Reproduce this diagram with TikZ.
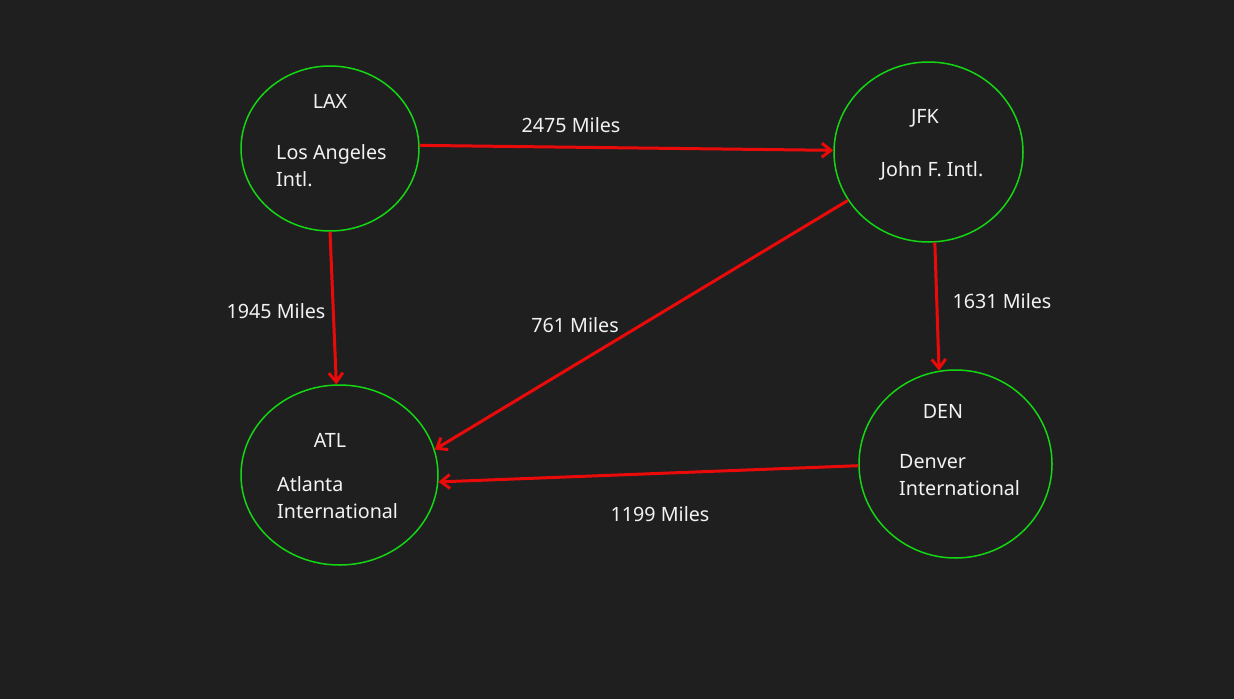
\documentclass[tikz,border=0pt]{standalone}
\usepackage{fontspec}
\setmainfont{Noto Sans}
\usetikzlibrary{shapes.geometric,arrows.meta}
\definecolor{bg}{HTML}{1F1F1F}
\definecolor{ring}{RGB}{20,215,20}
\definecolor{edgered}{RGB}{235,10,10}
\definecolor{txt}{HTML}{F2F2F2}
\tikzset{
  airport/.style={ellipse, draw=ring, line width=1.5pt, inner sep=0pt},
  lbl/.style={text=txt, font=\fontsize{19.7}{27}\selectfont, inner sep=0pt},
  route/.style={draw=edgered, line width=3pt, -{Straight Barb[length=9pt,width=14pt]}},
}
\begin{document}
\begin{tikzpicture}[x=1pt,y=-1pt]
\fill[bg] (0,0) rectangle (1234,699);
\useasboundingbox (0,0) rectangle (1234,699);
% airports
\node[airport, minimum width=178pt, minimum height=165pt] (lax) at (330,148.5) {};
\node[airport, minimum width=189pt, minimum height=180pt] (jfk) at (928.5,152) {};
\node[airport, minimum width=197pt, minimum height=180pt] (atl) at (339.5,475) {};
\node[airport, minimum width=193pt, minimum height=188pt] (den) at (955.5,464) {};
% texts
\node[lbl] (laxc) at (330,101) {LAX};
\node[lbl, anchor=north west, align=left] (laxn) at (276,144) {Los Angeles\\Intl.};
\node[lbl] (jfkc) at (925,118) {JFK};
\node[lbl] (jfkn) at (932,171) {John F. Intl.};
\node[lbl] (atlc) at (330,440) {ATL};
\node[lbl, anchor=north west, align=left] (atln) at (277,476) {Atlanta\\International};
\node[lbl] (denc) at (943,411) {DEN};
\node[lbl, anchor=north west, align=left] (denn) at (899,454) {Denver\\International};
% routes
\draw[route] (lax.2.3) -- (jfk.179.4);
\node[lbl] (e1) at (571,125) {2475 Miles};
\draw[route] (lax.south) -- (atl.92);
\node[lbl] (e2) at (276,311) {1945 Miles};
\draw[route] (jfk.211) -- (atl.15.6);
\node[lbl] (e3) at (575,325) {761 Miles};
\draw[route] (jfk.274) -- (den.100.8);
\node[lbl] (e4) at (1002,301) {1631 Miles};
\draw[route] (den.181) -- (atl.356);
\node[lbl] (e5) at (660,514) {1199 Miles};
\end{tikzpicture}
\end{document}
